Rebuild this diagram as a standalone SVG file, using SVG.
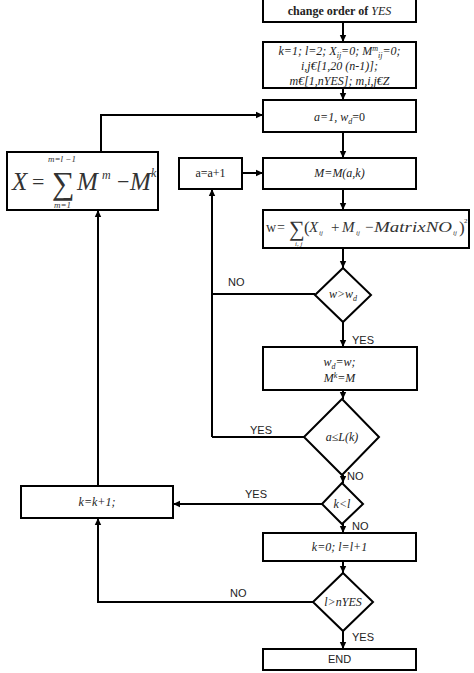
<svg xmlns="http://www.w3.org/2000/svg" width="474" height="673" viewBox="0 0 474 673">
<defs>
<marker id="ah" markerWidth="8" markerHeight="8" refX="7" refY="4" orient="auto" markerUnits="userSpaceOnUse">
<path d="M0,0.8 L7,4 L0,7.2 Z" fill="#000"/>
</marker>
<style>
.box{fill:#fff;stroke:#000;stroke-width:2}
.ln{fill:none;stroke:#000;stroke-width:2}
.la{fill:none;stroke:#000;stroke-width:2;marker-end:url(#ah)}
.m{font-family:"Liberation Serif",serif;font-style:italic;font-size:12px;fill:#222}
.r{font-family:"Liberation Serif",serif;font-size:12px;fill:#222}
.lb{font-family:"Liberation Sans",sans-serif;font-size:11px;fill:#222}
.f{font-family:"Liberation Serif",serif;fill:#333}
.fi{font-family:"Liberation Serif",serif;font-style:italic;fill:#333}
</style>
</defs>
<rect width="474" height="673" fill="#fff"/>
<g id="connectors">
<path class="la" d="M343,22 V42"/>
<path class="la" d="M343,88 V100"/>
<path class="la" d="M343,132 V158"/>
<path class="la" d="M242,173 H263"/>
<path class="la" d="M343,189 V210"/>
<path class="la" d="M343,248 V268"/>
<path class="ln" d="M315,294 H212"/>
<path class="la" d="M212,437 V189"/>
<path class="la" d="M343,322 V347"/>
<path class="la" d="M343,390 V399"/>
<path class="ln" d="M304,437 H212"/>
<path class="la" d="M343,475 V483"/>
<path class="la" d="M322,504 H173"/>
<path class="la" d="M343,523 V533"/>
<path class="la" d="M343,561 V573"/>
<path class="la" d="M343,631 V649"/>
<path class="la" d="M313,602 H98 V518"/>
<path class="la" d="M98,486 V210"/>
<path class="la" d="M101,152 V115 H263"/>
<text class="lb" x="228" y="286">NO</text>
<text class="lb" x="352" y="344">YES</text>
<text class="lb" x="250" y="434">YES</text>
<text class="lb" x="347" y="480">NO</text>
<text class="lb" x="245" y="498">YES</text>
<text class="lb" x="352" y="530">NO</text>
<text class="lb" x="230" y="597">NO</text>
<text class="lb" x="352" y="641">YES</text>
</g>
<g id="n_change">
<rect class="box" x="263" y="-1" width="153" height="23"/>
<text x="339.5" y="15" text-anchor="middle" font-family="Liberation Serif,serif" font-size="12" fill="#222"><tspan font-weight="bold">change order of </tspan><tspan font-style="italic">YES</tspan></text>
</g>
<g id="n_init">
<rect class="box" x="263" y="42" width="153" height="46"/>
<text class="m" x="339.5" y="55" text-anchor="middle">k=1; l=2; X<tspan font-size="8" dy="3">ij</tspan><tspan dy="-3">=0; M</tspan><tspan font-size="8" dy="-4">m</tspan><tspan font-size="8" dy="7">ij</tspan><tspan dy="-3">=0;</tspan></text>
<text class="m" x="339.5" y="70" text-anchor="middle">i,j€[1,20 (n-1)];</text>
<text class="m" x="339.5" y="85" text-anchor="middle">m€[1,nYES]; m,i,j€Z</text>
</g>
<g id="n_a1">
<rect class="box" x="263" y="100" width="153" height="32"/>
<text class="m" x="339.5" y="121" text-anchor="middle">a=1, w<tspan font-size="8" dy="3">d</tspan><tspan dy="-3" font-style="normal">=0</tspan></text>
</g>
<g id="n_X">
<rect class="box" x="7" y="152" width="151" height="58"/>
<text class="fi" x="12" y="190" font-size="25">X</text>
<text class="f" x="32" y="189" font-size="22">=</text>
<text class="f" x="52" y="194" font-size="32">∑</text>
<text class="fi" x="48" y="162" font-size="9">m=l −1</text>
<text class="fi" x="54" y="208" font-size="9">m=1</text>
<text class="fi" x="77" y="190" font-size="25">M</text>
<text class="fi" x="102" y="179" font-size="12">m</text>
<text class="f" x="117" y="189" font-size="22">−</text>
<text class="fi" x="130" y="190" font-size="25">M</text>
<text class="fi" x="151" y="177" font-size="12">k</text>
</g>
<g id="n_ainc">
<rect class="box" x="179" y="158" width="63" height="31"/>
<text class="r" x="210.5" y="177" text-anchor="middle">a=a+1</text>
</g>
<g id="n_M">
<rect class="box" x="263" y="158" width="153" height="31"/>
<text class="m" x="339.5" y="177" text-anchor="middle">M=M(a,k)</text>
</g>
<g id="n_w">
<rect class="box" x="263" y="210" width="206" height="38"/>
<text class="f" x="266" y="232" font-size="14">w</text>
<text class="f" x="277" y="232" font-size="14">=</text>
<text class="f" x="289" y="236" font-size="22">∑</text>
<text class="fi" x="295" y="246" font-size="7">i, j</text>
<text class="f" x="304" y="233" font-size="17">(</text>
<text class="fi" x="309" y="232" font-size="15">X</text>
<text class="fi" x="319" y="235" font-size="7">ij</text>
<text class="f" x="331" y="232" font-size="15">+</text>
<text class="fi" x="342" y="232" font-size="15">M</text>
<text class="fi" x="356" y="235" font-size="7">ij</text>
<text class="f" x="365" y="232" font-size="15">−</text>
<text class="fi" x="374" y="232" font-size="15" textLength="78" lengthAdjust="spacingAndGlyphs">MatrixNO</text>
<text class="fi" x="453" y="235" font-size="7">ij</text>
<text class="f" x="459" y="233" font-size="17">)</text>
<text class="f" x="464" y="223" font-size="7">2</text>
</g>
<g id="n_cond1">
<polygon class="box" points="343,268 371,295 343,322 315,295"/>
<text class="m" x="343" y="298" text-anchor="middle">w&gt;w<tspan font-size="8" dy="3">d</tspan></text>
</g>
<g id="n_upd">
<rect class="box" x="263" y="347" width="154" height="43"/>
<text class="m" x="339.5" y="366" text-anchor="middle">w<tspan font-size="8" dy="3">d</tspan><tspan dy="-3">=w;</tspan></text>
<text class="m" x="339.5" y="382" text-anchor="middle">M<tspan font-size="8" dy="-4">k</tspan><tspan dy="4">=M</tspan></text>
</g>
<g id="n_cond2">
<polygon class="box" points="342,399 379,437 342,475 304,437"/>
<text class="m" x="342" y="441" text-anchor="middle">a≤L(k)</text>
</g>
<g id="n_cond3">
<polygon class="box" points="342,483 363,504 342,524 322,504"/>
<text class="m" x="342" y="508" text-anchor="middle">k&lt;l</text>
</g>
<g id="n_kinc">
<rect class="box" x="21" y="486" width="152" height="32"/>
<text class="m" x="97" y="506" text-anchor="middle">k=k+1;</text>
</g>
<g id="n_reset">
<rect class="box" x="263" y="533" width="153" height="28"/>
<text class="m" x="339.5" y="551" text-anchor="middle">k=0; l=l+1</text>
</g>
<g id="n_cond4">
<polygon class="box" points="343,573 373,602 343,631 313,602"/>
<text class="m" x="343" y="606" text-anchor="middle">l&gt;nYES</text>
</g>
<g id="n_end">
<rect class="box" x="263" y="649" width="153" height="21"/>
<text class="lb" x="339.5" y="663" text-anchor="middle">END</text>
</g>
</svg>
